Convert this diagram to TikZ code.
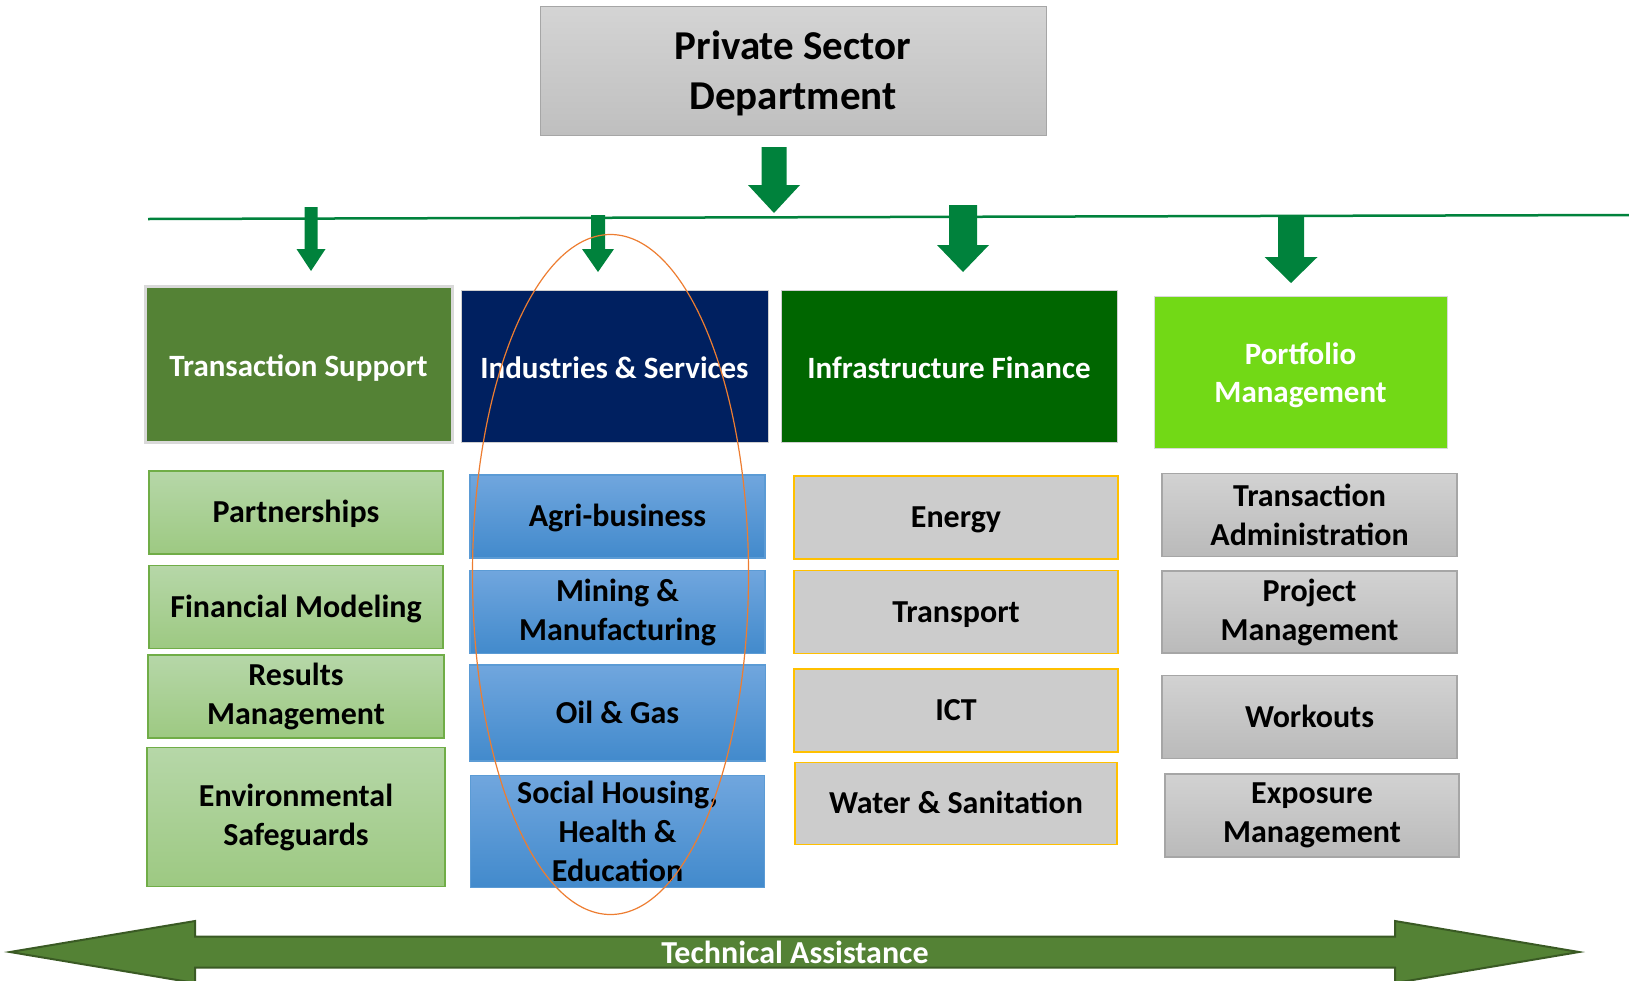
\documentclass[tikz,border=0pt]{standalone}
\usepackage{fontspec}
\setmainfont{Carlito}
\usepackage{tikz}
\usetikzlibrary{shapes.geometric, calc, positioning}
\definecolor{barGreen}{RGB}{0,130,60}
\definecolor{tsGreen}{RGB}{84,130,53}
\definecolor{taEdge}{RGB}{58,90,36}
\definecolor{isNavy}{RGB}{0,32,96}
\definecolor{ifGreen}{RGB}{0,102,0}
\definecolor{pmLime}{RGB}{114,217,22}
\definecolor{ringOrange}{RGB}{237,125,49}
\tikzstyle{dept} = [rectangle, draw={rgb,255:red,166;green,166;blue,166}, line width=1pt, top color={rgb,255:red,212;green,212;blue,212}, bottom color={rgb,255:red,191;green,191;blue,191}, minimum width=506pt, minimum height=129pt, align=center, font=\bfseries\fontsize{41}{50}\selectfont]
\tikzstyle{head} = [rectangle, text=white, align=center, inner sep=0pt, minimum height=152pt, font=\bfseries\fontsize{31}{37.5}\selectfont]
\tikzstyle{oneline} = [text height=24pt, text depth=3.4pt]
\tikzstyle{item} = [rectangle, line width=1.5pt, align=center, inner sep=0pt, minimum height=83pt, font=\bfseries\fontsize{32}{39}\selectfont]
\tikzstyle{tsitem} = [item, draw={rgb,255:red,112;green,173;blue,71}, top color={rgb,255:red,182;green,215;blue,168}, bottom color={rgb,255:red,157;green,201;blue,130}, minimum width=294pt]
\tikzstyle{isitem} = [item, draw={rgb,255:red,91;green,155;blue,213}, top color={rgb,255:red,112;green,166;blue,222}, bottom color={rgb,255:red,66;green,138;blue,204}, minimum width=295pt]
\tikzstyle{ifitem} = [item, oneline, draw={rgb,255:red,255;green,192;blue,0}, fill={rgb,255:red,204;green,204;blue,204}, minimum width=324pt]
\tikzstyle{pmitem} = [item, draw={rgb,255:red,166;green,166;blue,166}, top color={rgb,255:red,210;green,210;blue,210}, bottom color={rgb,255:red,186;green,186;blue,186}, minimum width=295pt]
\tikzstyle{bar} = [barGreen, line width=2.5pt]
\tikzstyle{downarrow} = [fill=barGreen]
\tikzstyle{ring} = [draw=ringOrange, line width=1.2pt, ellipse, minimum width=276pt, minimum height=680pt]
% x, top, head base, tip, half shaft, half head
\newcommand{\blockarrow}[6]{\fill[downarrow] (#1-#5,#2) -- (#1+#5,#2) -- (#1+#5,#3) -- (#1+#6,#3) -- (#1,#4) -- (#1-#6,#3) -- (#1-#5,#3) -- cycle;}

\begin{document}
\begin{tikzpicture}[x=1pt, y=-1pt]
	\useasboundingbox (0,0) rectangle (1629,980);
	\node (Dept) [dept, text depth=0pt] at (793,70.5) {Private Sector\\Department};
	\coordinate (BarLeft) at (148,219);
	\coordinate (BarRight) at (1629,215);
	\draw [bar] (BarLeft) -- (BarRight);
	\blockarrow{774}{147}{185}{213}{12.5}{26}
	\blockarrow{311}{207}{249}{271}{6.5}{14.5}
	\blockarrow{598}{215}{249}{272}{7}{16}
	\blockarrow{963}{205}{245}{272}{14}{26}
	\blockarrow{1291}{215}{257}{283}{13}{26.5}
	% headers
	\node (TransSupport) [head, text height=28pt, text depth=2.4pt, fill=tsGreen, draw={rgb,255:red,217;green,217;blue,217}, line width=3pt, minimum width=307pt, minimum height=156pt] at (298.5,364) {Transaction Support};
	\node (IndServ) [head, text height=28pt, text depth=2.4pt, fill=isNavy, draw={rgb,255:red,208;green,208;blue,208}, minimum width=307pt] at (614.5,366) {Industries \& Services};
	\node (InfraFin) [head, text height=28pt, text depth=2.4pt, fill=ifGreen, draw={rgb,255:red,208;green,208;blue,208}, minimum width=336pt] at (949,366) {Infrastructure Finance};
	\node (PortMgmt) [head, text depth=0pt, fill=pmLime, draw={rgb,255:red,217;green,217;blue,217}, minimum width=293pt] at (1300.5,372.5) {Portfolio\\Management};
	% transaction support
	\node (Partnerships) [tsitem, oneline] at (296,512.5) {Partnerships};
	\node (FinModel) [tsitem, oneline, below = 10pt of Partnerships] {Financial Modeling};
	\node (Results) [tsitem, below = 5pt of FinModel, minimum width=296pt] {Results\\Management};
	\node (EnvSafe) [tsitem, below = 8pt of Results, minimum width=298pt, minimum height=139pt] {Environmental\\Safeguards};
	% industries and services
	\node (Agri) [isitem, oneline] at (617.5,516.5) {Agri-business};
	\node (Mining) [isitem, below = 11pt of Agri] {Mining \&\\Manufacturing};
	\node (OilGas) [isitem, oneline, below = 10pt of Mining, minimum width=296pt, minimum height=96pt] {Oil \& Gas};
	\node (Social) [isitem, below = 13pt of OilGas, minimum width=294pt, minimum height=112pt] {Social Housing,\\Health \&\\Education};
	% infrastructure finance
	\node (Energy) [ifitem] at (956,517.5) {Energy};
	\node (Transport) [ifitem, below = 10pt of Energy] {Transport};
	\node (ICT) [ifitem, below = 14pt of Transport] {ICT};
	\node (Water) [ifitem, below = 9pt of ICT, minimum width=322pt, minimum height=82pt] {Water \& Sanitation};
	% portfolio management
	\node (TransAdmin) [pmitem] at (1309.5,515) {Transaction\\Administration};
	\node (ProjMgmt) [pmitem, below = 13pt of TransAdmin, minimum height=82pt] {Project\\Management};
	\node (Workouts) [pmitem, oneline, below = 21pt of ProjMgmt] {Workouts};
	\node (Exposure) [pmitem, below = 14pt of Workouts, xshift=2.5pt, minimum width=294pt] {Exposure\\Management};
	\node (Ring) [ring] at (610.5,574.5) {};
	% technical assistance
	\filldraw [fill=tsGreen, draw=taEdge, line width=2pt] (10,952) -- (195,921) -- (195,936.5) -- (1395,936.5) -- (1395,921) -- (1579,952) -- (1395,983) -- (1395,967.5) -- (195,967.5) -- (195,983) -- cycle;
	\node (TechAssist) [text=white, font=\bfseries\fontsize{32}{37}\selectfont] at (795,952) {Technical Assistance};
\end{tikzpicture}
\end{document}
